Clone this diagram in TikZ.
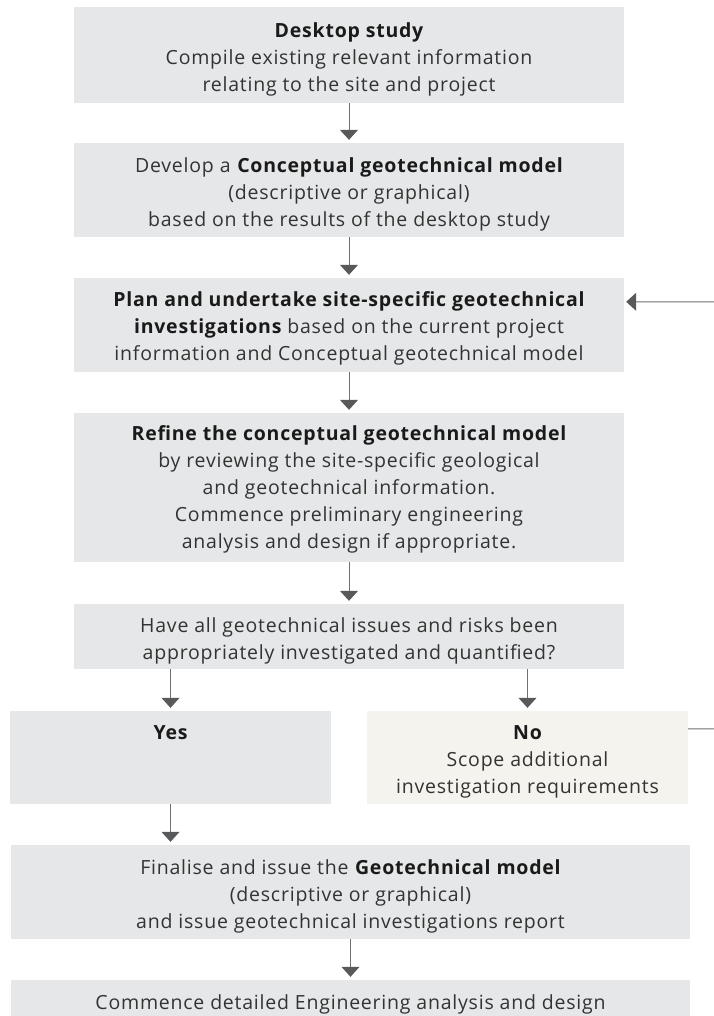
\documentclass[tikz,border=0pt]{standalone}
\usepackage{fontspec}
\setmainfont{Open Sans}[LetterSpace=4]
\usetikzlibrary{arrows.meta}
\definecolor{boxgray}{HTML}{E6E7E8}
\definecolor{boxcream}{HTML}{F5F3EE}
\definecolor{txt}{HTML}{333333}
\definecolor{bld}{HTML}{1A1A1A}
\definecolor{linegray}{HTML}{707070}
\definecolor{headgray}{HTML}{58595B}
\newcommand{\bt}[1]{\textbf{\color{bld}#1}}
\tikzset{
  box/.style={fill=boxgray, inner sep=0pt},
  nobox/.style={box, fill=boxcream},
  tx/.style={inner sep=0pt, align=center, text=txt, yshift=-4pt,
    font=\fontsize{19.5}{27}\selectfont},
  arr/.style={draw=linegray, line width=1pt,
    -{Triangle[width=18pt,length=10pt,fill=headgray,color=headgray]}, shorten >=3pt},
  fb/.style={arr, shorten >=2pt}
}
\begin{document}
\begin{tikzpicture}[x=1pt,y=1pt]
\useasboundingbox[fill=white] (0,0) rectangle (713,-1016);
\node[box, minimum width=550pt, minimum height=96pt,
  label={[tx]center:{\bt{Desktop study}\\Compile existing relevant information\\relating to the site and project}}] (B1) at (349,-55) {};
\node[box, minimum width=550pt, minimum height=94pt,
  label={[tx]center:{Develop a \bt{Conceptual geotechnical model}\\(descriptive or graphical)\\based on the results of the desktop study}}] (B2) at (349,-190) {};
\node[box, minimum width=550pt, minimum height=94pt,
  label={[tx, yshift=1pt]center:{\bt{Plan and undertake site-specific geotechnical}\\\bt{investigations} based on the current project\\information and Conceptual geotechnical model}}] (B3) at (349,-325) {};
\node[box, minimum width=550pt, minimum height=149pt,
  label={[tx, yshift=2pt]center:{\bt{Refine the conceptual geotechnical model}\\by reviewing the site-specific geological\\and geotechnical information.\\Commence preliminary engineering\\analysis and design if appropriate.}}] (B4) at (349,-487.5) {};
\node[box, minimum width=550pt, minimum height=65pt,
  label={[tx]center:{Have all geotechnical issues and risks been\\appropriately investigated and quantified?}}] (B5) at (349,-636.5) {};
\node[box, minimum width=321pt, minimum height=93pt,
  label={[tx, anchor=north, yshift=-11pt]north:{\bt{Yes}}}] (Yes) at (170.5,-757.5) {};
\node[nobox, minimum width=321pt, minimum height=93pt,
  label={[tx]center:{\bt{No}\\Scope additional\\investigation requirements}}] (No) at (527.5,-757.5) {};
\node[box, minimum width=679pt, minimum height=94pt,
  label={[tx]center:{Finalise and issue the \bt{Geotechnical model}\\(descriptive or graphical)\\and issue geotechnical investigations report}}] (B6) at (350.5,-892) {};
\node[box, minimum width=679pt, minimum height=44pt,
  label={[tx, yshift=2pt]center:{Commence detailed Engineering analysis and design}}] (B7) at (350.5,-1002) {};
\draw[arr] (B1) -- (B2);
\draw[arr] (B2) -- (B3);
\draw[arr] (B3) -- (B4);
\draw[arr] (B4) -- (B5);
\draw[arr] (B5.south -| Yes.north) -- (Yes.north);
\draw[arr] (B5.south -| No.north) -- (No.north);
\draw[arr] (Yes.south) -- (Yes.south |- B6.north);
\draw[arr] (B6) -- (B7);
\draw[fb] ([yshift=-18pt]No.north east) -- (730,-729) |- ([yshift=-24pt]B3.north east);
\end{tikzpicture}
\end{document}
